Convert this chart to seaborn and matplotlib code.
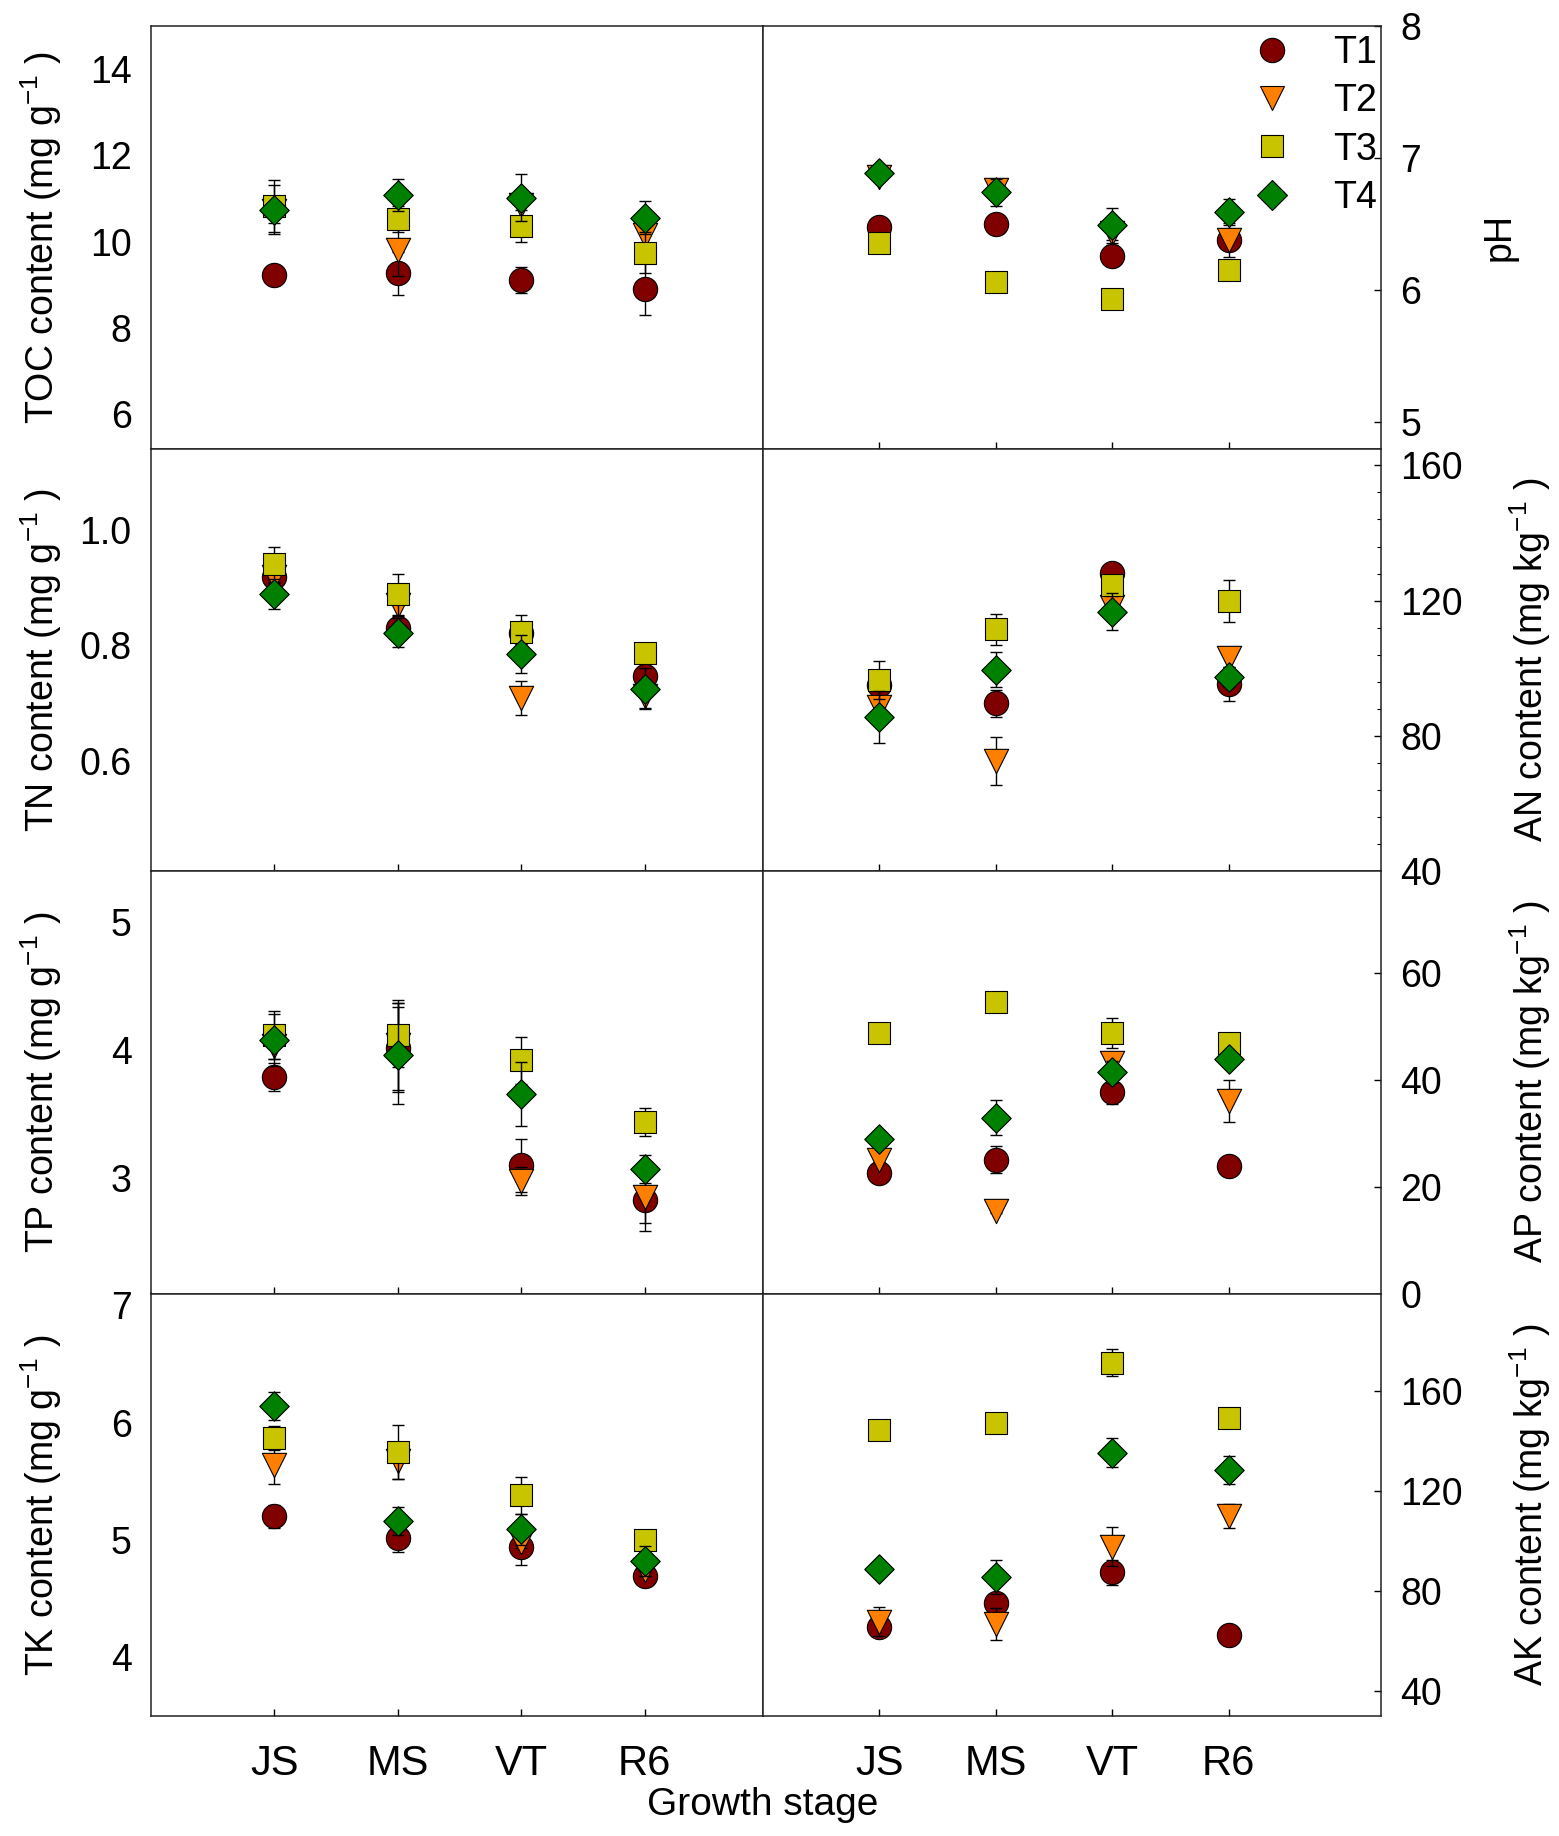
import matplotlib
matplotlib.use("Agg")
import matplotlib.pyplot as plt
from matplotlib.lines import Line2D
from matplotlib.ticker import MultipleLocator
import numpy as np
import pandas as pd
import seaborn as sns

stages = ["JS", "MS", "VT", "R6"]
treatments = ["T1", "T2", "T3", "T4"]

# means per treatment (rows T1..T4), columns = growth stages
toc_mean = [[9.22, 9.26, 9.11, 8.90], [10.72, 9.80, 10.85, 10.15],
            [10.82, 10.52, 10.36, 9.74], [10.74, 11.08, 11.02, 10.55]]
toc_err = [[0.10, 0.50, 0.30, 0.60], [0.30, 0.60, 0.30, 0.20],
           [0.60, 0.30, 0.37, 0.48], [0.57, 0.38, 0.55, 0.38]]

ph_mean = [[6.48, 6.50, 6.26, 6.38], [6.86, 6.76, 6.43, 6.38],
           [6.36, 6.06, 5.93, 6.15], [6.89, 6.74, 6.49, 6.59]]
ph_err = [[0.03, 0.03, 0.08, 0.05], [0.03, 0.04, 0.05, 0.13],
          [0.02, 0.02, 0.02, 0.04], [0.02, 0.10, 0.13, 0.10]]

tn_mean = [[0.918, 0.829, 0.821, 0.747], [0.918, 0.870, 0.709, 0.712],
           [0.940, 0.888, 0.823, 0.786], [0.889, 0.822, 0.785, 0.725]]
tn_err = [[0.010, 0.010, 0.010, 0.010], [0.010, 0.020, 0.030, 0.020],
          [0.030, 0.035, 0.030, 0.010], [0.026, 0.025, 0.033, 0.035]]

an_mean = [[95.0, 89.6, 128.1, 95.4], [88.5, 72.5, 118.2, 102.9],
           [96.4, 111.5, 124.5, 119.8], [85.7, 99.6, 116.7, 97.3]]
an_err = [[2.0, 4.0, 1.5, 5.0], [2.0, 7.0, 1.5, 3.3],
          [5.6, 4.5, 3.0, 6.2], [7.7, 5.2, 5.5, 3.0]]

tp_mean = [[3.79, 4.02, 3.10, 2.83], [4.03, 4.04, 2.98, 2.85],
           [4.12, 4.12, 3.92, 3.44], [4.08, 3.96, 3.66, 3.07]]
tp_err = [[0.11, 0.35, 0.21, 0.24], [0.10, 0.35, 0.11, 0.20],
          [0.19, 0.25, 0.18, 0.11], [0.20, 0.38, 0.25, 0.11]]

ap_mean = [[22.6, 25.0, 37.7, 23.8], [25.0, 15.5, 43.1, 36.0],
           [48.8, 54.5, 48.7, 46.8], [28.8, 32.9, 41.4, 43.9]]
ap_err = [[0.5, 2.5, 2.3, 0.5], [0.5, 0.5, 0.6, 4.0],
          [0.2, 0.2, 2.8, 0.5], [0.5, 3.3, 2.0, 0.5]]

tk_mean = [[5.20, 5.02, 4.94, 4.69], [5.64, 5.67, 4.98, 4.74],
           [5.87, 5.75, 5.38, 5.00], [6.14, 5.16, 5.09, 4.82]]
tk_err = [[0.10, 0.12, 0.15, 0.03], [0.16, 0.15, 0.05, 0.05],
          [0.10, 0.23, 0.16, 0.03], [0.12, 0.12, 0.13, 0.13]]

ak_mean = [[65.7, 75.4, 87.5, 62.4], [67.8, 66.8, 97.8, 109.9],
           [144.5, 147.1, 171.4, 149.4], [88.9, 85.7, 135.4, 128.4]]
ak_err = [[1.0, 2.0, 5.0, 1.0], [5.7, 6.4, 7.8, 4.8],
          [1.0, 1.0, 5.3, 1.0], [1.0, 6.8, 5.7, 5.7]]

colors = {"T1": "#800000", "T2": "#FF8000", "T3": "#C8C400", "T4": "#008000"}
markers = {"T1": "o", "T2": "v", "T3": "s", "T4": "D"}
msize = {"T1": 17.5, "T2": 17.5, "T3": 15.5, "T4": 15.0}

sns.set_theme(style="white")
plt.rcParams["font.family"] = ["Liberation Sans", "DejaVu Sans"]
plt.rcParams["mathtext.default"] = "regular"
for key in ["text.color", "axes.labelcolor", "xtick.color", "ytick.color"]:
    plt.rcParams[key] = "black"

# (mean, err, label, ylim, yticks, row, col, minor)
panels = [
    (toc_mean, toc_err, "TOC content (mg g$^{-1}$ )", (5.2, 15.0), [6, 8, 10, 12, 14], 0, 0, None),
    (ph_mean, ph_err, "pH", (4.8, 8.0), [5, 6, 7, 8], 0, 1, None),
    (tn_mean, tn_err, "TN content (mg g$^{-1}$ )", (0.41, 1.14), [0.6, 0.8, 1.0], 1, 0, None),
    (an_mean, an_err, "AN content (mg kg$^{-1}$ )", (40, 165), [40, 80, 120, 160], 1, 1, 8),
    (tp_mean, tp_err, "TP content (mg g$^{-1}$ )", (2.1, 5.4), [3, 4, 5], 2, 0, None),
    (ap_mean, ap_err, "AP content (mg kg$^{-1}$ )", (0, 79), [0, 20, 40, 60], 2, 1, None),
    (tk_mean, tk_err, "TK content (mg g$^{-1}$ )", (3.5, 7.1), [4, 5, 6, 7], 3, 0, None),
    (ak_mean, ak_err, "AK content (mg kg$^{-1}$ )", (30, 199), [40, 80, 120, 160], 3, 1, None),
]

W, H = 1559, 1836
fig = plt.figure(figsize=(W / 100, H / 100), dpi=100)
x_left, x_mid, x_right = 151 / W, 763 / W, 1381 / W
y_top, y_bot = 1 - 26 / H, 1 - 1716 / H
row_h = (y_top - y_bot) / 4

pos = np.arange(1, len(stages) + 1)

for mean, err, label, ylim, yticks, r, c, minor in panels:
    x0 = x_left if c == 0 else x_mid
    w = (x_mid - x_left) if c == 0 else (x_right - x_mid)
    ax = fig.add_axes([x0, y_top - (r + 1) * row_h, w, row_h])

    for i, t in enumerate(treatments):
        df = pd.DataFrame({"pos": pos, "value": mean[i], "err": err[i]})
        ax.errorbar(df["pos"], df["value"], yerr=df["err"], fmt="none",
                    ecolor="black", elinewidth=1.0, capsize=4.5, capthick=1.0,
                    zorder=2 + 2 * i)
        sns.scatterplot(data=df, x="pos", y="value", ax=ax, marker=markers[t],
                        color=colors[t], s=msize[t] ** 2, edgecolor="black",
                        linewidth=0.8, legend=False, zorder=3 + 2 * i)

    ax.set_xlim(0, 4.96 if c == 0 else 5.31)
    ax.set_ylim(*ylim)
    ax.set_yticks(yticks)
    if label.startswith("TN"):
        ax.set_yticklabels([f"{v:.1f}" for v in yticks])
    ax.set_xticks(pos)
    ax.set_xlabel("")
    ax.set_ylabel(label, fontsize=27)

    for sp in ax.spines.values():
        sp.set_linewidth(1.1)
        sp.set_color("#222222")
        sp.set_visible(True)

    ax.tick_params(axis="y", direction="in", length=5, width=1.0,
                   labelsize=27, pad=14, colors="black")
    ax.tick_params(axis="x", direction="in", length=5, width=1.0,
                   labelsize=30, pad=20, colors="black",
                   bottom=not (r == 0 and c == 0), labelbottom=(r == 3))
    if r == 3:
        ax.set_xticklabels(stages)

    if c == 1:
        ax.yaxis.tick_right()
        ax.yaxis.set_label_position("right")
        ax.tick_params(axis="y", left=False, right=True, direction="in")
        ax.yaxis.set_label_coords(1.163 if label == "pH" else 1.205, 0.5)
    else:
        ax.yaxis.set_label_coords(-0.142, 0.5)

    if minor:
        ax.yaxis.set_minor_locator(MultipleLocator(minor))
        ax.tick_params(axis="y", which="minor", direction="in", length=3,
                       width=0.8, right=True, left=False)

    if r == 0 and c == 1:
        handles = [Line2D([], [], linestyle="none", marker=markers[t],
                          markersize=msize[t], markerfacecolor=colors[t],
                          markeredgecolor="black", markeredgewidth=0.8)
                   for t in treatments]
        ax.legend(handles, treatments, loc="upper left",
                  bbox_to_anchor=(0.793, 0.979), frameon=False, fontsize=27,
                  handlelength=1.0, handletextpad=1.13, labelspacing=0.33,
                  borderpad=0, borderaxespad=0)

fig.text(x_mid, 1 - 1805 / H, "Growth stage", ha="center", va="center",
         fontsize=28)

fig.savefig("out.png", dpi=100)
